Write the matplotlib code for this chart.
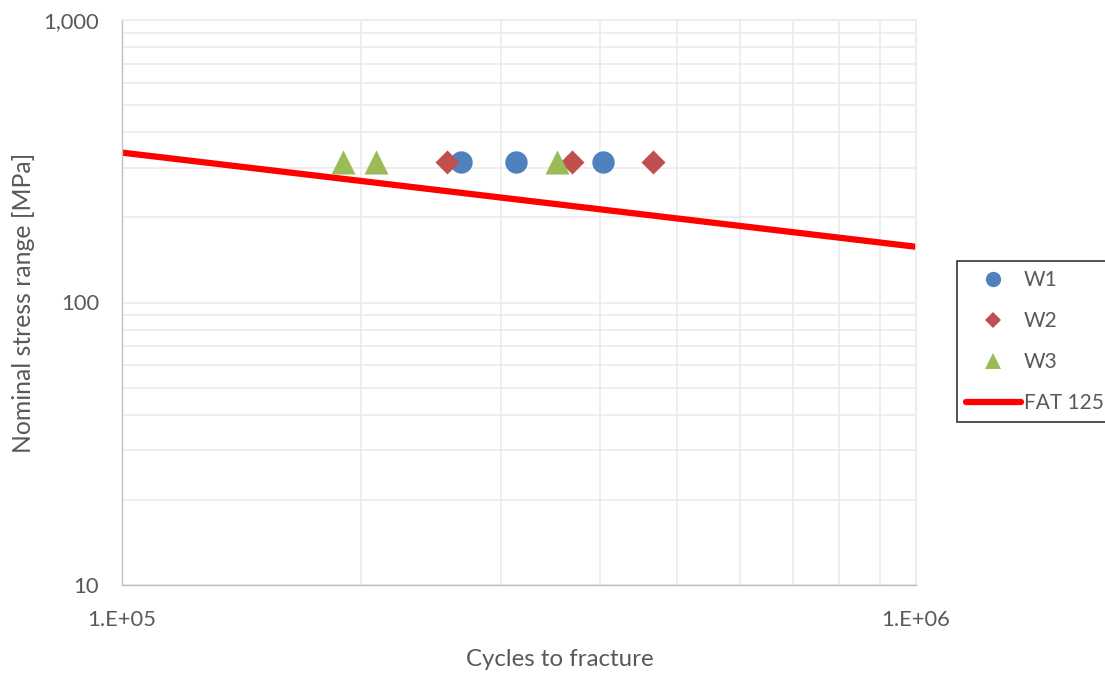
import numpy as np
import matplotlib.pyplot as plt
from matplotlib.lines import Line2D
from matplotlib.ticker import FixedLocator, NullFormatter

plt.rcParams['font.family'] = ['Lato', 'DejaVu Sans']

# Fatigue test results: cycles to fracture at a constant nominal stress range
w1_cycles = [267000, 313500, 403000]
w1_stress = [315, 315, 315]
w2_cycles = [256800, 368500, 466000]
w2_stress = [315, 315, 315]
w3_cycles = [190000, 209000, 352700]
w3_stress = [315, 315, 315]

# FAT 125 design curve (slope m = 3, reference at 2e6 cycles)
fat_class = 125
fat_cycles = [1e5, 1e6]
fat_stress = [fat_class * (2e6 / n) ** (1 / 3) for n in fat_cycles]

text_col = '#595959'
grid_col = '#ebebeb'

fig = plt.figure(figsize=(11.05, 6.73), dpi=100)
ax = fig.add_axes([122 / 1105, 1 - 585 / 673, (916 - 122) / 1105, (585 - 20) / 673])
ax.set_xscale('log')
ax.set_yscale('log')
ax.set_xlim(1e5, 1e6)
ax.set_ylim(10, 1000)

ax.xaxis.set_major_locator(FixedLocator([1e5, 1e6]))
ax.xaxis.set_minor_locator(FixedLocator([k * 1e5 for k in range(2, 10)]))
ax.yaxis.set_major_locator(FixedLocator([10, 100, 1000]))
ax.yaxis.set_minor_locator(FixedLocator([k * 10 ** e for e in (1, 2) for k in range(2, 10)]))
ax.xaxis.set_minor_formatter(NullFormatter())
ax.yaxis.set_minor_formatter(NullFormatter())
ax.set_xticklabels(['1.E+05', '1.E+06'])
ax.set_yticklabels(['10', '100', '1,000'])

ax.grid(True, which='both', color=grid_col, linewidth=1.2)
ax.set_axisbelow(True)
ax.tick_params(which='both', length=0, labelsize=15.8, colors=text_col)
ax.tick_params(axis='y', pad=16.5)
ax.tick_params(axis='x', pad=18)
for side in ['left', 'bottom']:
    ax.spines[side].set_color('#bfbfbf')
    ax.spines[side].set_linewidth(1.0)
for side in ['top', 'right']:
    ax.spines[side].set_color(grid_col)
    ax.spines[side].set_linewidth(1.2)

ax.plot(fat_cycles, fat_stress, color='#ff0000', linewidth=4.5, solid_capstyle='butt', zorder=2)
ax.scatter(w1_cycles, w1_stress, marker='o', s=260, color='#4f81bd', linewidths=0, zorder=3)
ax.scatter(w2_cycles, w2_stress, marker='D', s=150, color='#c0504d', linewidths=0, zorder=3)
ax.scatter(w3_cycles, w3_stress, marker='^', s=300, color='#9bbb59', linewidths=0, zorder=3)

ax.set_xlabel('Cycles to fracture', fontsize=17.3, color=text_col, labelpad=14, x=0.552)
ax.set_ylabel('Nominal stress range [MPa]', fontsize=17.8, color=text_col, labelpad=6)

handles = [
    Line2D([], [], linestyle='none', marker='o', markersize=11, color='#4f81bd', markeredgewidth=0),
    Line2D([], [], linestyle='none', marker='D', markersize=8, color='#c0504d', markeredgewidth=0),
    Line2D([], [], linestyle='none', marker='^', markersize=11, color='#9bbb59', markeredgewidth=0),
    Line2D([], [], color='#ff0000', linewidth=4.5, solid_capstyle='round'),
]
leg = fig.legend(handles, ['W1', 'W2', 'W3', 'FAT 125'],
                 loc='upper left', bbox_to_anchor=(957 / 1105, 1 - 261 / 673),
                 frameon=True, fancybox=False, edgecolor='black', fontsize=15,
                 labelcolor=text_col, handlelength=2.6, handletextpad=0.15,
                 labelspacing=1.0, borderpad=0.45, borderaxespad=0)
leg.get_frame().set_linewidth(1.2)

fig.savefig('out.png', dpi=100)
